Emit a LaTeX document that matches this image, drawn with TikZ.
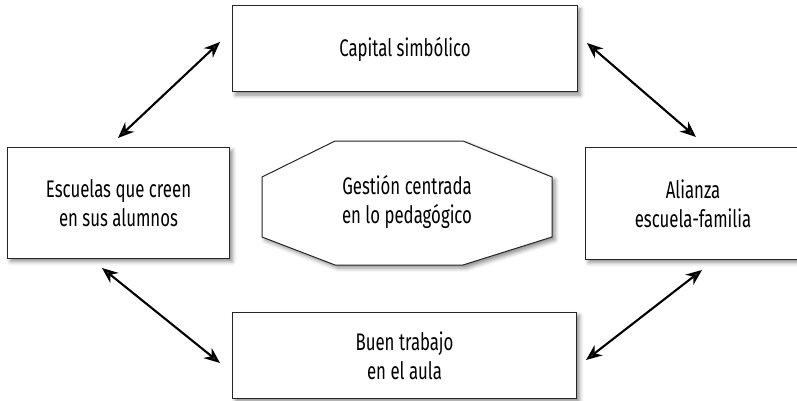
\documentclass[tikz,border=0pt]{standalone}
\usepackage{fontspec}
\setmainfont[FakeStretch=0.70]{Fira Sans}
\usetikzlibrary{arrows.meta,shadows.blur}
\begin{document}
\begin{tikzpicture}[x=1pt,y=-1pt,
  box/.style={draw=black!85, line width=1pt, fill=white, minimum width=#1, anchor=north west, inner sep=0pt,
    blur shadow={shadow xshift=3pt, shadow yshift=-3pt, shadow blur radius=4pt, shadow opacity=45}},
  lbl/.style={font=\fontsize{24}{29}\selectfont, align=center, text=black},
  biarrow/.style={line width=2.1pt, {Stealth[length=16pt,width=13pt]}-{Stealth[length=16pt,width=13pt]}}
]
\useasboundingbox (0,0) rectangle (797,401);
% boxes
\node[box=345pt, minimum height=86pt] (cap) at (232,5.5) {};
\node[lbl] at (cap.center) {Capital simbólico};
\node[box=222pt, minimum height=111pt] (esc) at (7,147) {};
\node[lbl] at (esc.center) {Escuelas que creen\\en sus alumnos};
\node[box=215pt, minimum height=112pt] (ali) at (585,147) {};
\node[lbl] at (ali.center) {Alianza\\escuela-familia};
\node[box=344pt, minimum height=86pt] (bue) at (232,312) {};
\node[lbl] at (bue.center) {Buen trabajo\\en el aula};
% octagon
\draw[draw=black!85, line width=1pt, fill=white,
  blur shadow={shadow xshift=3pt, shadow yshift=-3pt, shadow blur radius=4pt, shadow opacity=45}]
  (335,141) -- (463,141) -- (552,177) -- (552,237) -- (463,265) -- (335,265) -- (262,237) -- (262,177) -- cycle;
\node[lbl] (ges) at (407,202) {Gestión centrada\\en lo pedagógico};
% arrow ends
\coordinate (a1) at (220,42);
\coordinate (a2) at (118,138);
\coordinate (b1) at (587,43);
\coordinate (b2) at (696,137);
\coordinate (c1) at (102,268);
\coordinate (c2) at (220,363);
\coordinate (d1) at (702,270);
\coordinate (d2) at (586,360);
\draw[biarrow] (a2) -- (a1);
\draw[biarrow] (b1) -- (b2);
\draw[biarrow] (c1) -- (c2);
\draw[biarrow] (d2) -- (d1);
\end{tikzpicture}
\end{document}
